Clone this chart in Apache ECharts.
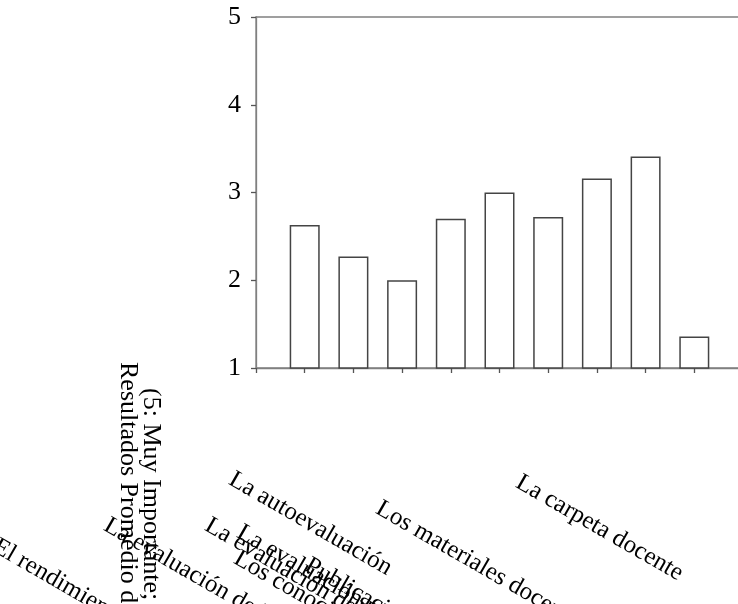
<!DOCTYPE html>
<html>
<head>
<meta charset="utf-8">
<script src="https://cdn.jsdelivr.net/npm/echarts@6/dist/echarts.min.js"></script>
<style>
html,body{margin:0;padding:0;background:#fff;}
#chart{width:738px;height:604px;}
</style>
</head>
<body>
<div id="chart"></div>
<script>
// Data
var categories = [
  'El rendimiento académico de los estudiantes',
  'La evaluación de los estudiantes',
  'La evaluación del jefe de departamento',
  'La evaluación por los pares',
  'Los conocimientos',
  'Publicaciones',
  'La autoevaluación',
  'Los materiales docentes',
  'La carpeta docente'
];
var values = [2.63, 2.27, 2.00, 2.70, 3.00, 2.72, 3.16, 3.41, 1.36];
var yTicks = [1, 2, 3, 4, 5];
var yTitleLines = ['(5: Muy Importante; 1: Nada Importante)', 'Resultados Promedio de las Respuestas'];

// Label placement (layout only)
var labelPos = [
  [1, 534], [112, 513], [213, 513], [245, 520], [242, 546],
  [313, 553], [237, 467], [384, 496], [524, 470]
];
var titlePos = [[151, 388], [128, 362]];

var FONT = 'Liberation Serif, Times New Roman, serif';
var axisData = [''].concat(categories).concat(['']);
var seriesData = [null].concat(values).concat([null]);

var graphics = [];
categories.forEach(function (c, i) {
  graphics.push({
    type: 'text', x: labelPos[i][0], y: labelPos[i][1], rotation: -Math.PI / 6,
    style: { text: c, fontSize: 25, fontFamily: FONT, fill: '#000', align: 'left', verticalAlign: 'top' }
  });
});
yTitleLines.forEach(function (t, i) {
  graphics.push({
    type: 'text', x: titlePos[i][0], y: titlePos[i][1], rotation: -Math.PI / 2,
    style: { text: t, fontSize: 26, fontFamily: FONT, fill: '#000', align: 'left', verticalAlign: 'middle' }
  });
});

var chart = echarts.init(document.getElementById('chart'), null, { renderer: 'canvas' });
chart.setOption({
  animation: false,
  backgroundColor: '#fff',
  grid: { left: 256, top: 17, width: 487, height: 351, outerBoundsMode: 'none', containLabel: false,
          show: true, borderColor: '#808080', borderWidth: 1.3, backgroundColor: 'transparent' },
  xAxis: {
    type: 'category', data: axisData, boundaryGap: false,
    axisLine: { lineStyle: { color: '#808080', width: 1.3 } },
    axisTick: { show: true, interval: 0, length: 5, inside: false, lineStyle: { color: '#555', width: 1.3 } },
    axisLabel: { show: false, interval: 0 },
    splitLine: { show: false }
  },
  yAxis: {
    type: 'value', min: yTicks[0], max: yTicks[yTicks.length - 1], interval: 1,
    axisLine: { show: true, lineStyle: { color: '#808080', width: 1.3 } },
    axisTick: { show: true, length: 5, lineStyle: { color: '#555', width: 1.3 } },
    axisLabel: { color: '#000', fontSize: 26, fontFamily: FONT, margin: 15 },
    splitLine: { show: false }
  },
  series: [{
    type: 'bar', data: seriesData, barWidth: 30,
    itemStyle: { color: '#fff', borderColor: '#444', borderWidth: 1.5 }
  }],
  graphic: graphics
});
</script>
</body>
</html>
